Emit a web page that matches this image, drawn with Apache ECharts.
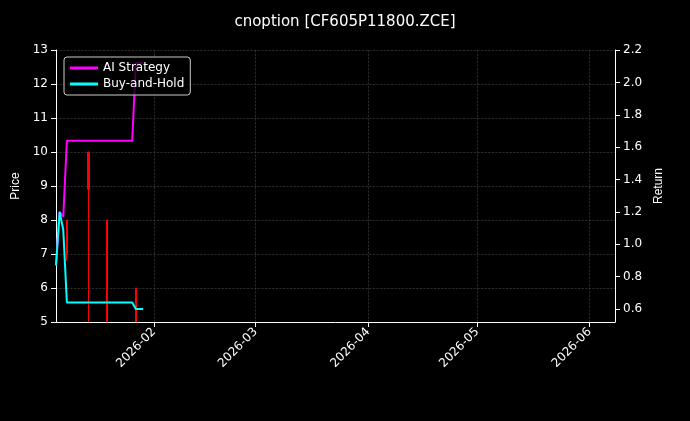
<!DOCTYPE html><html><head><meta charset="utf-8"><script src="https://cdn.jsdelivr.net/npm/echarts@6/dist/echarts.min.js"></script></head><body style="margin:0;background:#000"><div id="c" style="width:690px;height:421px"></div><script>
const candleDates=['2026-01-07','2026-01-08','2026-01-14','2026-01-19','2026-01-27'];
const candleOHLC=[[13.2,14,13.1,14.5],[8,7,6.8,8],[10,8.9,5,10],[8,5,5,8],[6,5,5,6]];
const lineDates=['2026-01-05','2026-01-06','2026-01-07','2026-01-08','2026-01-09','2026-01-12','2026-01-13','2026-01-14','2026-01-15','2026-01-16','2026-01-19','2026-01-20','2026-01-21','2026-01-22','2026-01-23','2026-01-26','2026-01-27','2026-01-28','2026-01-29'];
const aiReturn=[0.87,1.2,1.17,1.64,1.64,1.64,1.64,1.64,1.64,1.64,1.64,1.64,1.64,1.64,1.64,1.64,2.12,2.12,2.12];
const bhReturn=[0.87,1.2,1.09,0.64,0.64,0.64,0.64,0.64,0.64,0.64,0.64,0.64,0.64,0.64,0.64,0.64,0.6,0.6,0.6];
const priceTicks=[5,6,7,8,9,10,11,12,13];
const returnTicks=[0.6,0.8,1.0,1.2,1.4,1.6,1.8,2.0,2.2];
const monthTicks=['2026-02-01','2026-03-01','2026-04-01','2026-05-01','2026-06-01'];
const ts=d=>Date.UTC(+d.slice(0,4),+d.slice(5,7)-1,+d.slice(8,10));
const monthTs=monthTicks.map(ts);
const ch=echarts.init(document.getElementById('c'));
const grid={lineStyle:{color:'#444',type:'dashed',width:0.6}};
const ax={lineStyle:{color:'#fff'}};
ch.setOption({backgroundColor:'#000',animation:false,
title:{text:'cnoption [CF605P11800.ZCE]',left:'center',top:10,textStyle:{color:'#fff',fontSize:15,fontWeight:'normal',fontFamily:'DejaVu Sans'}},
legend:{left:64,top:57,orient:'vertical',itemGap:4,itemWidth:28,itemHeight:3,backgroundColor:'rgba(0,0,0,0.75)',borderColor:'#ccc',borderWidth:1,borderRadius:3,padding:[5,6],textStyle:{color:'#fff',fontSize:12,fontFamily:'DejaVu Sans'},data:[{name:'AI Strategy',icon:'rect'},{name:'Buy-and-Hold',icon:'rect'}],z:10},
grid:{left:56,right:75,top:50,bottom:99},
xAxis:{type:'value',min:ts('2026-01-05'),max:ts('2026-06-08'),scale:true,axisLine:ax,axisTick:{show:true,lineStyle:{color:'#fff'},customValues:monthTs},
axisLabel:{color:'#fff',rotate:45,fontSize:12,fontFamily:'DejaVu Sans',customValues:monthTs,formatter:v=>{const d=new Date(v);return d.getUTCFullYear()+'-'+String(d.getUTCMonth()+1).padStart(2,'0');}},
splitLine:{show:true,...grid}},
yAxis:[{type:'value',min:5,max:13,interval:1,name:'Price',nameLocation:'middle',nameGap:28,nameTextStyle:{color:'#fff',fontSize:12},axisLine:{show:true,...ax},axisTick:{show:true,lineStyle:{color:'#fff'}},axisLabel:{color:'#fff',fontSize:12,fontFamily:'DejaVu Sans'},splitLine:{show:true,...grid}},
{type:'value',min:0.52,max:2.2,name:'Return',nameLocation:'middle',nameGap:38,nameTextStyle:{color:'#fff',fontSize:12},axisLine:{show:true,...ax},axisTick:{show:true,lineStyle:{color:'#fff'},customValues:returnTicks},axisLabel:{color:'#fff',fontSize:12,fontFamily:'DejaVu Sans',customValues:returnTicks,formatter:v=>v.toFixed(1)},splitLine:{show:false}}],
series:[
{type:'candlestick',yAxisIndex:0,barWidth:2,clip:true,itemStyle:{color:'#00c000',color0:'#ff0000',borderColor:'#00c000',borderColor0:'#ff0000',borderWidth:1},data:candleDates.map((d,i)=>{const [o,c,l,h]=candleOHLC[i];return [ts(d),o,c,l,h];})},
{name:'AI Strategy',type:'line',yAxisIndex:1,symbol:'none',lineStyle:{color:'#ff00ff',width:2},itemStyle:{color:'#ff00ff'},data:lineDates.map((d,i)=>[ts(d),aiReturn[i]])},
{name:'Buy-and-Hold',type:'line',yAxisIndex:1,symbol:'none',lineStyle:{color:'#00ffff',width:2},itemStyle:{color:'#00ffff'},data:lineDates.map((d,i)=>[ts(d),bhReturn[i]])}
]});
</script></body></html>
